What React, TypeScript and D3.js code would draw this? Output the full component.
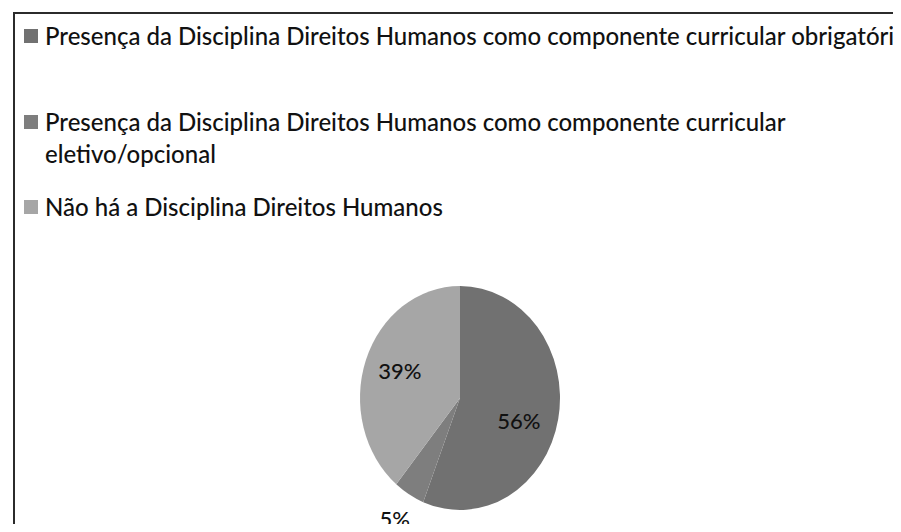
import React, { useEffect, useRef } from "react";
import * as d3 from "d3";

// legend lines (the first one runs off the right edge in the original)
const legendLines = [
  ["Presença da Disciplina Direitos Humanos como componente curricular obrigatório"],
  ["Presença da Disciplina Direitos Humanos como componente curricular", "eletivo/opcional"],
  ["Não há a Disciplina Direitos Humanos"],
];
const values = [56, 5, 39];
const colors = ["#717171", "#7e7e7e", "#a6a6a6"];

const App = () => {
  const svgRef = useRef<SVGSVGElement | null>(null);
  const w = 901;
  const h = 532;

  useEffect(() => {
    const svg = d3.select(svgRef.current);
    svg.selectAll("*").remove();
    svg.attr("viewBox", `0 0 ${w} ${h}`).style("background", "#fff");

    // frame
    svg.append("path")
      .attr("d", `M14,${h} L14,13 L${w},13`)
      .attr("fill", "none")
      .attr("stroke", "#2b2b2b")
      .attr("stroke-width", 2);

    const font = "Lato, 'Open Sans', sans-serif";
    const baselines = [[45], [131, 163], [216]];

    // legend
    const legend = svg.append("g");
    legendLines.forEach((lines, i) => {
      legend.append("rect")
        .attr("x", 24)
        .attr("y", baselines[i][0] - 16)
        .attr("width", 14)
        .attr("height", 14)
        .attr("fill", colors[i]);
      lines.forEach((ln, j) => {
        legend.append("text")
          .attr("x", 45)
          .attr("y", baselines[i][j])
          .attr("font-family", font)
          .attr("font-size", 24)
          .attr("font-weight", 500)
          .attr("fill", "#111")
          .text(ln);
      });
    });

    // pie
    const cx = 460, cy = 398, r = 100;
    const pie = d3.pie<number>().sort(null).value((d) => d);
    const arcs = pie(values);
    const arc = d3.arc<d3.PieArcDatum<number>>().innerRadius(0).outerRadius(r);
    const g = svg.append("g").attr("transform", `translate(${cx},${cy}) scale(1,1.12)`);
    g.selectAll("path")
      .data(arcs)
      .enter()
      .append("path")
      .attr("d", arc)
      .attr("fill", (_, i) => colors[i]);

    const labelR = [64, 128, 64];
    arcs.forEach((a, i) => {
      const la = d3.arc<d3.PieArcDatum<number>>().innerRadius(labelR[i]).outerRadius(labelR[i]);
      const [x, y] = la.centroid(a);
      svg.append("text")
        .attr("x", cx + x - (i === 0 ? 4 : 0))
        .attr("y", cy + y * 1.12 + (i === 0 ? 12 : 0))
        .attr("text-anchor", "middle")
        .attr("dominant-baseline", "middle")
        .attr("font-family", font)
        .attr("font-size", 22)
        .attr("font-weight", 500)
        .attr("fill", "#111")
        .text(`${values[i]}%`);
    });
  }, []);

  return (
    <div style={{ margin: -8 }}>
      <svg ref={svgRef} width={w} height={h} style={{ display: "block" }}></svg>
    </div>
  );
};

export default App;
